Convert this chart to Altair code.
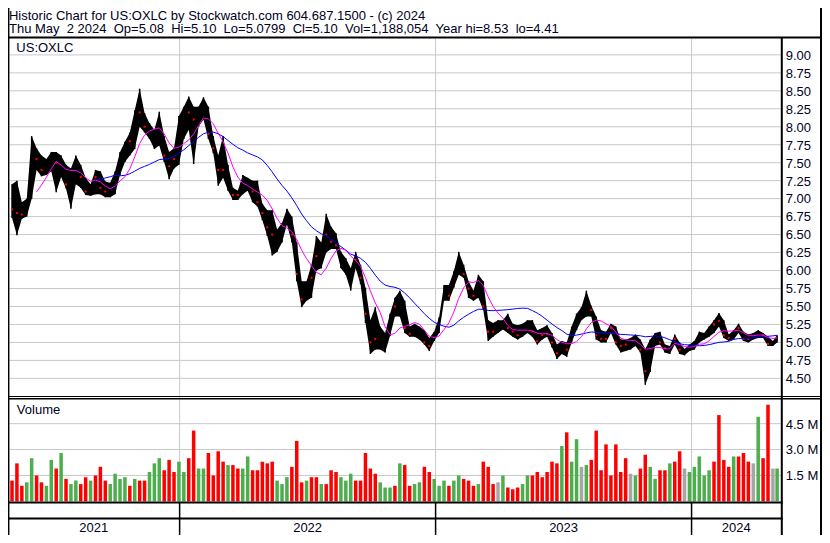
import altair as alt
import pandas as pd

# ---------------- data (weekly samples) ----------------
hi = [7.2, 7.25, 6.95, 7.0, 7.87, 7.7, 7.6, 7.55, 7.65, 7.65,
      7.6, 7.47, 7.42, 7.6, 7.47, 7.29, 7.2, 7.4, 7.38, 7.24,
      7.22, 7.38, 7.65, 7.79, 7.92, 8.23, 8.53, 8.19, 8.05, 7.96,
      8.21, 7.87, 7.65, 7.7, 8.15, 8.28, 8.42, 8.28, 8.28, 8.41,
      8.28, 7.87, 7.6, 7.87, 7.47, 7.15, 7.11, 7.33, 7.29, 7.25,
      7.25, 6.93, 6.84, 6.84, 6.57, 6.66, 6.86, 6.75, 6.39, 5.85,
      5.85, 6.08, 6.48, 6.39, 6.79, 6.61, 6.52, 6.26, 6.17, 6.03,
      6.26, 6.08, 5.76, 5.31, 5.49, 5.22, 5.13, 5.4, 5.62, 5.72,
      5.58, 5.22, 5.26, 5.22, 5.17, 5.06, 5.15, 5.35, 5.8, 5.8,
      5.99, 6.26, 6.08, 5.85, 5.72, 5.94, 5.85, 5.31, 5.27, 5.31,
      5.31, 5.4, 5.26, 5.24, 5.26, 5.31, 5.31, 5.17, 5.2, 5.24,
      5.13, 4.97, 5.02, 5.0, 5.22, 5.4, 5.49, 5.72, 5.51, 5.36,
      5.17, 5.15, 5.26, 5.22, 5.04, 5.04, 5.06, 5.11, 5.04, 4.91,
      5.04, 5.13, 5.15, 4.97, 4.95, 5.11, 5.0, 4.91, 4.97, 5.02,
      5.15, 5.13, 5.22, 5.31, 5.41, 5.31, 5.11, 5.17, 5.26, 5.15,
      5.11, 5.13, 5.17, 5.13, 5.08, 5.02, 5.1]
lo = [6.73, 6.49, 6.72, 6.75, 7.0, 7.4, 7.31, 7.33, 7.38, 7.09,
      7.3, 7.14, 6.86, 7.2, 7.15, 7.05, 7.04, 7.06, 7.06, 7.02,
      7.02, 7.06, 7.33, 7.51, 7.6, 7.69, 8.0, 7.92, 7.83, 7.69,
      7.74, 7.51, 7.27, 7.42, 7.47, 7.83, 7.96, 7.48, 8.0, 8.1,
      7.83, 7.63, 7.18, 7.29, 7.11, 6.98, 6.98, 7.06, 7.11, 6.95,
      6.89, 6.7, 6.48, 6.21, 6.26, 6.39, 6.64, 6.39, 5.85, 5.49,
      5.58, 5.62, 6.0, 6.03, 6.25, 6.3, 6.3, 6.03, 5.94, 5.72,
      6.03, 5.81, 5.27, 4.84, 4.9, 4.9, 4.86, 5.09, 5.36, 5.36,
      5.13, 5.08, 5.08, 5.04, 4.97, 4.88, 5.02, 5.13, 5.58, 5.58,
      5.76, 5.94, 5.9, 5.62, 5.58, 5.62, 5.45, 5.02, 5.08, 5.13,
      5.18, 5.13, 5.08, 5.04, 5.08, 5.13, 5.08, 4.97, 5.04, 5.08,
      4.93, 4.77, 4.84, 4.8, 5.0, 5.17, 5.31, 5.36, 5.36, 5.04,
      5.0, 5.0, 5.13, 4.97, 4.86, 4.88, 4.9, 4.95, 4.86, 4.41,
      4.59, 4.95, 4.97, 4.86, 4.84, 4.97, 4.84, 4.82, 4.88, 4.9,
      5.0, 5.04, 5.08, 5.13, 5.22, 5.06, 5.02, 5.04, 5.13, 5.02,
      5.0, 5.04, 5.06, 5.06, 4.95, 4.95, 5.0]
cl = [6.85, 6.8, 6.78, 6.9, 7.7, 7.55, 7.4, 7.45, 7.5, 7.5,
      7.4, 7.2, 7.3, 7.45, 7.3, 7.1, 7.1, 7.3, 7.15, 7.1,
      7.08, 7.3, 7.55, 7.65, 7.8, 8.1, 8.2, 8.0, 7.9, 7.8,
      7.9, 7.6, 7.45, 7.55, 8.0, 8.1, 8.2, 8.1, 8.15, 8.2,
      7.9, 7.7, 7.4, 7.4, 7.2, 7.05, 7.05, 7.2, 7.2, 7.1,
      6.95, 6.8, 6.6, 6.5, 6.4, 6.5, 6.75, 6.5, 5.95, 5.6,
      5.7, 5.9, 6.2, 6.3, 6.5, 6.4, 6.35, 6.1, 6.05, 5.8,
      6.15, 5.9, 5.4, 5.0, 5.05, 5.0, 4.95, 5.25, 5.5, 5.45,
      5.2, 5.12, 5.15, 5.1, 5.0, 4.95, 5.08, 5.25, 5.7, 5.65,
      5.9, 6.1, 5.95, 5.75, 5.65, 5.8, 5.5, 5.15, 5.15, 5.2,
      5.22, 5.2, 5.15, 5.1, 5.15, 5.2, 5.15, 5.02, 5.1, 5.12,
      5.0, 4.85, 4.92, 4.9, 5.1, 5.3, 5.4, 5.5, 5.45, 5.1,
      5.05, 5.05, 5.2, 5.0, 4.95, 4.97, 5.0, 5.02, 4.9, 4.6,
      5.0, 5.05, 5.0, 4.92, 4.9, 5.05, 4.9, 4.88, 4.95, 4.97,
      5.1, 5.08, 5.15, 5.25, 5.3, 5.1, 5.06, 5.1, 5.2, 5.05,
      5.05, 5.1, 5.12, 5.1, 4.98, 4.98, 5.1]
vol_m = [1.2, 2.2, 0.9, 1.1, 2.5, 1.5, 1.1, 0.9, 2.4, 1.9,
         2.8, 1.3, 1.0, 1.2, 1.0, 1.4, 1.2, 1.5, 2.0, 1.2,
         1.0, 1.6, 1.3, 1.4, 0.9, 1.3, 1.2, 1.2, 1.7, 2.2,
         2.5, 1.8, 2.4, 1.7, 2.3, 1.7, 2.5, 4.1, 1.9, 1.9,
         2.8, 1.5, 2.9, 2.3, 2.1, 2.1, 1.9, 1.9, 2.6, 1.8,
         1.8, 2.3, 2.2, 2.3, 1.2, 1.0, 1.4, 2.0, 3.5, 1.1,
         1.2, 1.4, 1.4, 1.0, 1.0, 1.8, 1.7, 1.4, 1.2, 1.6,
         1.2, 1.2, 2.8, 1.9, 1.6, 1.1, 0.8, 0.8, 0.9, 2.2,
         2.1, 0.9, 1.0, 1.1, 2.0, 1.7, 1.3, 0.9, 1.2, 0.9,
         1.2, 1.5, 1.3, 1.2, 0.9, 1.0, 2.3, 2.0, 1.0, 1.1,
         1.5, 0.8, 0.7, 0.8, 1.0, 1.5, 1.5, 1.7, 1.4, 1.7,
         2.3, 2.2, 3.2, 4.0, 2.3, 3.6, 2.0, 2.1, 2.4, 4.1,
         1.8, 3.3, 1.5, 3.3, 1.7, 2.5, 1.6, 1.5, 1.9, 2.7,
         2.0, 1.3, 1.8, 1.8, 2.2, 2.3, 2.9, 1.9, 1.7, 2.0,
         2.6, 1.5, 1.8, 2.3, 5.0, 2.4, 2.0, 2.6, 2.6, 2.8,
         2.3, 2.2, 4.9, 2.5, 5.6, 1.9, 1.9]
# u = up (green), d = down (red), n = unchanged (grey), one letter per week
direction_groups = [
    "ddduudduud", "uduudduddd", "uuuududduu", "uddduudduu", "ddddudduud",
    "dddduuuddd", "udduddduuu", "ddddduuudu", "dduudduuud", "uudddudddn",
    "uddduudddd", "dduduunudd", "ddddddnudd", "uudduddnuu", "uuuddddudd",
    "dnuddnu",
]
direction = list("".join(direction_groups))

price_ticks = ["4.50", "4.75", "5.00", "5.25", "5.50", "5.75", "6.00", "6.25", "6.50",
               "6.75", "7.00", "7.25", "7.50", "7.75", "8.00", "8.25", "8.50", "8.75", "9.00"]
vol_ticks = [1.5, 3.0, 4.5]
vol_tick_labels = ["1.5 M", "3.0 M", "4.5 M"]
years = ["2021", "2022", "2023", "2024"]
year_starts = ["2022-01-01", "2023-01-01", "2024-01-01"]

title1 = "Historic Chart for US:OXLC by Stockwatch.com 604.687.1500 - (c) 2024"
title2 = ("Thu May\u00a0 2 2024\u00a0 Op=5.08\u00a0 Hi=5.10\u00a0 Lo=5.0799\u00a0 Cl=5.10"
          "\u00a0 Vol=1,188,054\u00a0 Year hi=8.53\u00a0 lo=4.41")

# ---------------- layout ----------------
W, H = 814, 527
KX, KY = W / 830.0, H / 543.0


def px(X):
    return X * KX


def py(Y):
    return Y * KY


FONT = "Liberation Sans"
TXT = "#000022"

ref = pd.Timestamp("2022-01-01")
n = len(hi)
dates = [pd.Timestamp("2021-05-07") + pd.Timedelta(days=7 * i) for i in range(n)]
dates[-1] = pd.Timestamp("2024-05-02")
dd = [(t - ref).days for t in dates]

df = pd.DataFrame({"d": dd, "hi": hi, "lo": lo, "cl": cl, "vol": vol_m, "dir": direction})
df["v1"] = df["d"] - 2.5
df["v2"] = df["d"] + 2.5
df["zero"] = 0.0

bounds_d = [(pd.Timestamp(s) - ref).days for s in year_starts]

xs = alt.Scale(domain=[0, 730], range=[px(175), px(697)], zero=False, nice=False)
ps = alt.Scale(domain=[4.5, 9.0], range=[py(381.6), py(48.3)], zero=False, nice=False)
vs = alt.Scale(domain=[0, 4.5], range=[py(508.3), py(428.3)], zero=False, nice=False)

# grid lines
pt = pd.DataFrame({"lab": price_ticks, "v": [float(t) for t in price_ticks]})
grid_p = alt.Chart(pt).mark_rule(color="#c8c8c8", strokeWidth=1).encode(
    y=alt.Y("v:Q", scale=ps, axis=None), x=alt.value(px(1.5)), x2=alt.value(px(788)))
lab_p = alt.Chart(pt).mark_text(align="left", baseline="alphabetic", font=FONT, fontSize=13,
                                color=TXT, dy=5 * KY).encode(
    y=alt.Y("v:Q", scale=ps, axis=None), x=alt.value(px(793)), text="lab:N")

vt = pd.DataFrame({"lab": vol_tick_labels, "v": vol_ticks})
grid_v = alt.Chart(vt).mark_rule(color="#c8c8c8", strokeWidth=1).encode(
    y=alt.Y("v:Q", scale=vs, axis=None), x=alt.value(px(1.5)), x2=alt.value(px(788)))
lab_v = alt.Chart(vt).mark_text(align="left", baseline="alphabetic", font=FONT, fontSize=13,
                                color=TXT, dy=5 * KY).encode(
    y=alt.Y("v:Q", scale=vs, axis=None), x=alt.value(px(793)), text="lab:N")

yb = pd.DataFrame({"d": bounds_d})
vgrid = alt.Chart(yb).mark_rule(color="#c8c8c8", strokeWidth=1).encode(
    x=alt.X("d:Q", scale=xs, axis=None), y=alt.value(py(31.5)), y2=alt.value(py(509)))
vsep = alt.Chart(yb).mark_rule(color="black", strokeWidth=1.5).encode(
    x=alt.X("d:Q", scale=xs, axis=None), y=alt.value(py(509.5)), y2=alt.value(py(543)))

# volume bars
vbars = alt.Chart(df).mark_rect().encode(
    x=alt.X("v1:Q", scale=xs, axis=None), x2="v2:Q",
    y=alt.Y("vol:Q", scale=vs, axis=None), y2="zero:Q",
    color=alt.Color("dir:N", scale=alt.Scale(domain=["u", "d", "n"],
                                             range=["#4cae4c", "#ff0000", "#a6a6a6"]),
                    legend=None))

# price band (weekly high-low range) with vertical ticks
pband = alt.Chart(df).mark_area(color="black", opacity=1, interpolate="linear").encode(
    x=alt.X("d:Q", scale=xs, axis=None),
    y=alt.Y("lo:Q", scale=ps, axis=None), y2="hi:Q")
pticks = alt.Chart(df).mark_rule(color="black", strokeWidth=1.5).encode(
    x=alt.X("d:Q", scale=xs, axis=None),
    y=alt.Y("lo:Q", scale=ps, axis=None), y2="hi:Q")
pdots = alt.Chart(df).transform_filter("datum.dir == 'd'").mark_square(
    color="#ff0000", size=4, opacity=1).encode(
    x=alt.X("d:Q", scale=xs, axis=None), y=alt.Y("cl:Q", scale=ps, axis=None))

ma_short = alt.Chart(df).transform_window(
    ma="mean(cl)", rn="row_number()", frame=[-5, 0], sort=[alt.SortField("d")]
).transform_filter("datum.rn >= 6").mark_line(color="#ff00ff", strokeWidth=1).encode(
    x=alt.X("d:Q", scale=xs, axis=None), y=alt.Y("ma:Q", scale=ps, axis=None))
ma_long = alt.Chart(df).transform_window(
    ma="mean(cl)", rn="row_number()", frame=[-17, 0], sort=[alt.SortField("d")]
).transform_filter("datum.rn >= 18").mark_line(color="#0000ff", strokeWidth=1).encode(
    x=alt.X("d:Q", scale=xs, axis=None), y=alt.Y("ma:Q", scale=ps, axis=None))

# frame lines (pixel geometry of the panels)
seg = pd.DataFrame([
    (0, 30.5, 830, 30.5, 2),
    (0, 400.3, 830, 400.3, 1),
    (0, 402.5, 830, 402.5, 1.5),
    (0, 509.5, 790, 509.5, 2),
    (0, 526, 790, 526, 2),
    (0.7, 0, 0.7, 543, 1.5),
    (789, 30.5, 789, 543, 2),
    (829, 0, 829, 543, 2),
], columns=["xa", "ya", "xb", "yb", "w"])
seg["xa"] = seg["xa"] * KX
seg["xb"] = seg["xb"] * KX
seg["ya"] = seg["ya"] * KY
seg["yb"] = seg["yb"] * KY
frame = alt.Chart(seg).mark_rule(color="black").encode(
    x=alt.X("xa:Q", scale=None, axis=None), x2="xb:Q",
    y=alt.Y("ya:Q", scale=None, axis=None), y2="yb:Q",
    strokeWidth=alt.StrokeWidth("w:Q", scale=None, legend=None))


def label(txt, X, Y, size=13):
    return alt.Chart(pd.DataFrame({"t": [txt]})).mark_text(
        align="left", baseline="alphabetic", font=FONT, fontSize=size, color=TXT
    ).encode(x=alt.value(px(X)), y=alt.value(py(Y)), text="t:N")


t1 = label(title1, 1, 12)
t2 = label(title2, 1, 26)
t3 = label("US:OXLC", 8.5, 45)
t4 = label("Volume", 9, 418)

d_left = (0 - 175) * 730 / (697 - 175)
d_right = (788 - 175) * 730 / (697 - 175)
edges = [d_left] + bounds_d + [d_right]
yl = pd.DataFrame({"y": years, "m": [(edges[i] + edges[i + 1]) / 2 for i in range(4)]})
ylab = alt.Chart(yl).mark_text(align="center", baseline="alphabetic", font=FONT,
                               fontSize=13, color=TXT).encode(
    x=alt.X("m:Q", scale=xs, axis=None), y=alt.value(py(540)), text="y:N")

chart = alt.layer(
    grid_p, grid_v, vgrid, vbars, pband, pticks, pdots, ma_long, ma_short,
    frame, vsep, lab_p, lab_v, t1, t2, t3, t4, ylab
).resolve_scale(
    x="independent", y="independent", color="independent"
).properties(
    width=W, height=H, padding=0,
    autosize=alt.AutoSizeParams(type="none"),
    background="white",
).configure_view(strokeWidth=0)

chart.save("out.html", embed_options={"renderer": "svg", "actions": False})
